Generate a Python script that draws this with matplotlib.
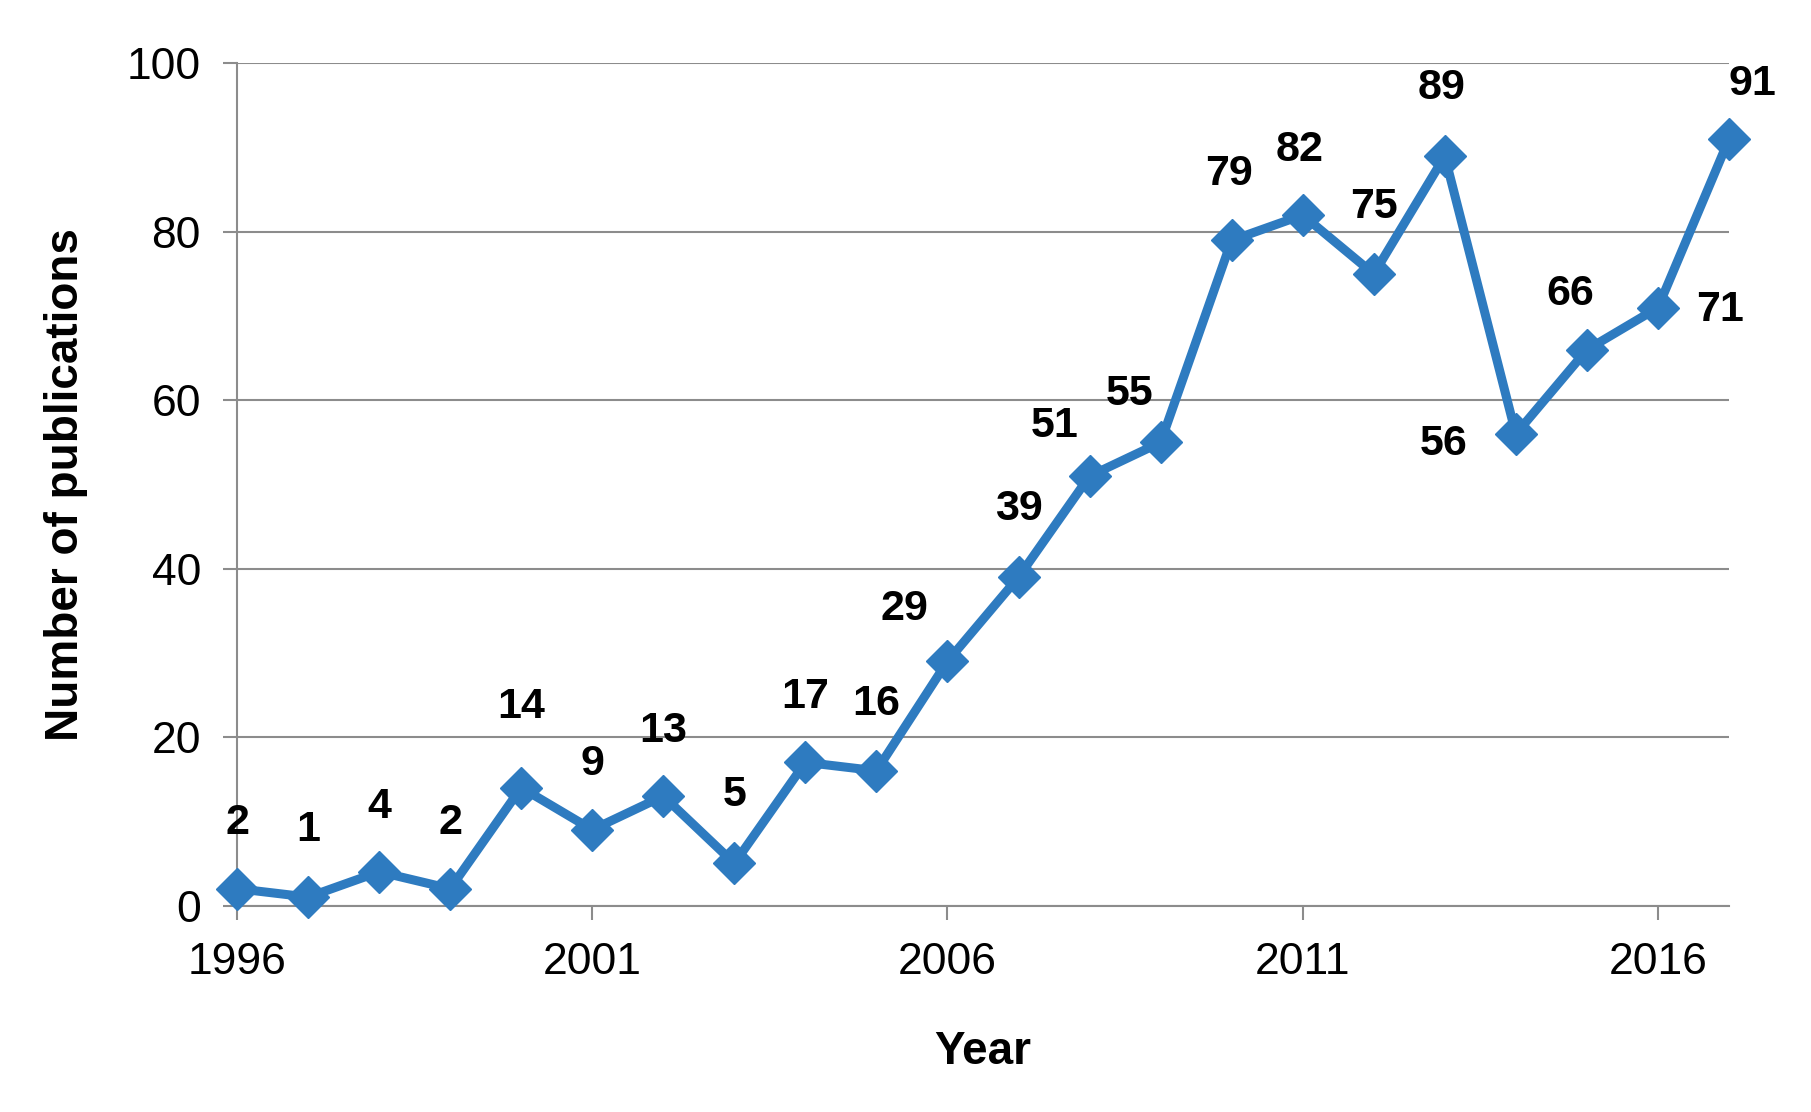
import matplotlib
matplotlib.use("Agg")
import matplotlib.pyplot as plt

years = [1996, 1997, 1998, 1999, 2000, 2001, 2002, 2003, 2004, 2005, 2006,
         2007, 2008, 2009, 2010, 2011, 2012, 2013, 2014, 2015, 2016, 2017]
publications = [2, 1, 4, 2, 14, 9, 13, 5, 17, 16, 29,
                 39, 51, 55, 79, 82, 75, 89, 56, 66, 71, 91]
x_ticks = [1996, 2001, 2006, 2011, 2016]
y_ticks = [0, 20, 40, 60, 80, 100]

# label offsets (in points) relative to each marker
label_offsets = [(0, 47), (0, 48), (0, 47), (0, 47), (0, 58), (0, 47), (0, 47), (0, 49),
                 (0, 47), (0, 48), (-31, 38), (0, 49), (-25, 36), (-22, 35), (-2, 48),
                 (-2, 47), (0, 48), (-2, 49), (-52, -7), (-12, 40), (45, -2), (17, 40)]

plt.rcParams['font.family'] = ['Liberation Sans', 'DejaVu Sans']

fig = plt.figure(figsize=(18.11, 11.12), dpi=100)
ax = fig.add_axes([0.1309, 0.1857, 0.8238, 0.7572])

line_color = '#2e7bc0'
grid_color = '#8c8c8c'

ax.plot(years, publications, color=line_color, linewidth=6.5, marker='D',
        markersize=21, markeredgecolor=line_color, markerfacecolor=line_color,
        zorder=3, clip_on=False)

for x, y, (dx, dy) in zip(years, publications, label_offsets):
    ax.annotate(str(y), (x, y), xytext=(dx, dy), textcoords='offset points',
                ha='center', va='center', fontsize=31, fontweight='bold',
                color='black')

ax.set_xlim(1996, 2017)
ax.set_ylim(0, 100)
ax.set_xticks(x_ticks)
ax.set_yticks(y_ticks)
ax.yaxis.grid(True, color=grid_color, linewidth=1.5)
ax.set_axisbelow(True)

for side in ['top', 'right']:
    ax.spines[side].set_visible(False)
for side in ['left', 'bottom']:
    ax.spines[side].set_color(grid_color)
    ax.spines[side].set_linewidth(1.5)

ax.tick_params(axis='both', direction='out', length=10, width=1.5,
               color=grid_color, labelsize=32, pad=16)

ax.set_xlabel('Year', fontsize=33, fontweight='bold', labelpad=34)
ax.set_ylabel('Number of publications', fontsize=33, fontweight='bold', labelpad=28)

fig.savefig('out.png', dpi=100, facecolor='white')
